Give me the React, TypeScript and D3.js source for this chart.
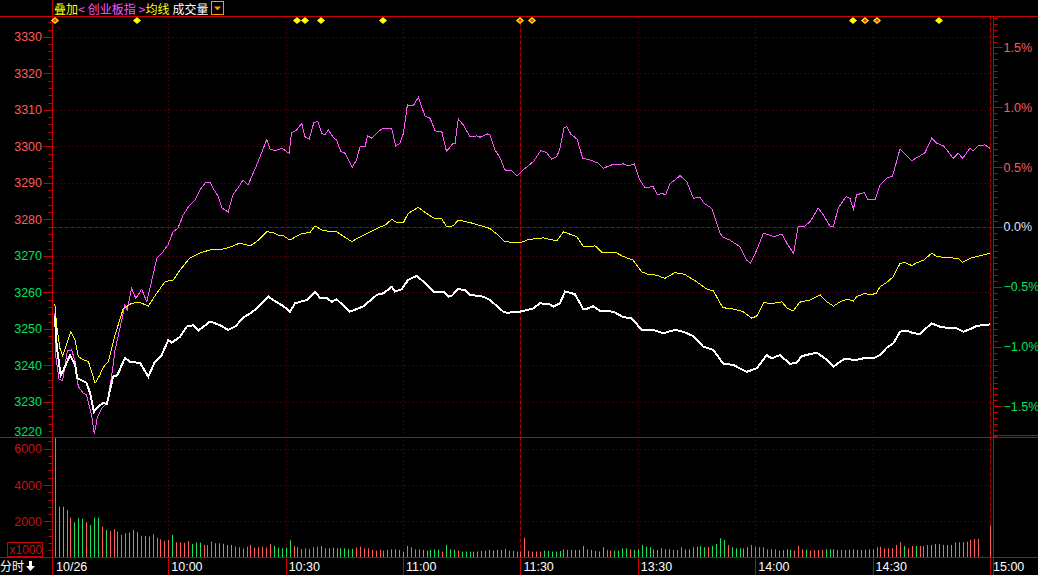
import React, { useEffect } from "react";
import * as d3 from "d3";

// ---------------- data ----------------
const PREV_CLOSE = 3277.9;

const priceTicks = [3220, 3230, 3240, 3250, 3260, 3270, 3280, 3290, 3300, 3310, 3320, 3330];
const pctTicks = [-1.5, -1.0, -0.5, 0.0, 0.5, 1.0, 1.5];
const volTicks = [2000, 4000, 6000];

const timeTickMinutes = [0, 30, 60, 90, 120, 150, 180, 210, 240];
const timeTickLabels = ["10/26", "10:00", "10:30", "11:00", "11:30", "13:30", "14:00", "14:30", "15:00"];

// minute index (trading minutes after 9:30), index value
const indexLine: [number, number][] = [
  [1, 3253.5], [1.5, 3245.1], [2.5, 3237.3], [3.2, 3238.7], [4.9, 3242.8], [6.2, 3240.1], [6.7, 3236.5], [9.1, 3235.2], [10, 3232.4], [11, 3227.3],
  [12.1, 3228.7], [13.4, 3229.7], [14.3, 3229.4], [15.3, 3234.1], [15.9, 3236.9], [17, 3237.3], [18.9, 3242], [20.2, 3241], [22.8, 3240.6], [24.9, 3236.9],
  [26.6, 3241], [28.3, 3242.8], [30, 3246.9], [30.9, 3246.2], [33, 3247.8], [34.7, 3250.6], [36.4, 3251], [37.7, 3249.5], [40.7, 3252], [43.2, 3251],
  [45.3, 3249.7], [47.3, 3250.8], [49.1, 3253], [50.9, 3254.2], [52.6, 3255.6], [55.6, 3258.8], [56.8, 3257.9], [59.4, 3256.2], [61.1, 3254.7], [62.4, 3257],
  [65.4, 3257.9], [67.5, 3260.2], [68.8, 3258.4], [70.5, 3258.4], [71.8, 3257.4], [73, 3258.1], [76.4, 3254.7], [79.8, 3256.1], [83.3, 3259.3], [84.9, 3259.7],
  [87.1, 3261.5], [87.9, 3260.2], [89.6, 3260.8], [91.3, 3263.4], [93.5, 3264.5], [95.2, 3262.9], [97.7, 3260.2], [100.3, 3260.2], [101.6, 3258.8], [102.4, 3259],
  [104.1, 3260.9], [105.8, 3260.6], [107.1, 3259.3], [110.5, 3258.8], [112.2, 3257.9], [115.6, 3254.7], [116.5, 3254.4], [119.9, 3254.7], [123.3, 3255.6], [125, 3257],
  [127.5, 3256.7], [128.4, 3256.1], [130.1, 3257], [131.4, 3260.2], [133.9, 3259.5], [136.1, 3255.3], [137.3, 3255.6], [138.6, 3256.2], [140.3, 3254.9], [143.7, 3254.7],
  [146.3, 3253.2], [148.4, 3252.9], [151, 3249.7], [153.9, 3249.7], [156.5, 3248.8], [159.5, 3249.7], [161.6, 3249.2], [164.2, 3248], [166.7, 3245.1], [169.3, 3244.2],
  [171.8, 3240.5], [174.4, 3240.1], [177.8, 3238.2], [180.4, 3239.2], [182.9, 3242.8], [184.2, 3241.9], [186.3, 3242.8], [188.9, 3240.4], [190.6, 3240.7], [191.9, 3242.5],
  [195.7, 3243.5], [198.3, 3241.5], [200, 3239.6], [202.5, 3241.6], [204.2, 3241.6], [205.9, 3241.5], [207.6, 3241.9], [210.2, 3241.9], [211.9, 3242.8], [213.6, 3244.8],
  [215.3, 3246], [217, 3249.2], [218.7, 3249.5], [220.4, 3248.8], [222.1, 3248.6], [223.4, 3249.9], [225.1, 3251.5], [227.2, 3250.6], [229.8, 3250.1], [231.5, 3250.1],
  [233.2, 3249.2], [235.3, 3250.1], [236.6, 3250.8], [240, 3251.2],
];

// average price line (均线)
const avgLine: [number, number][] = [
  [1, 3256.8], [1.5, 3250.6], [2.3, 3244.7], [3, 3242.5], [5.1, 3249.2], [6.2, 3246.9], [7, 3242.4], [8.3, 3241.5], [9.6, 3241], [11.3, 3235.1],
  [12.5, 3237.3], [13.4, 3239.5], [14.7, 3241], [16.4, 3248.3], [18.5, 3255.6], [19.5, 3256.2], [20.6, 3257], [22.8, 3257.2], [24.9, 3256.2], [27, 3259.7],
  [29.2, 3262.9], [31.3, 3263.4], [33, 3266.1], [35.5, 3269.4], [38.1, 3270.8], [40.7, 3271.6], [43.2, 3271.6], [45.8, 3272.4], [48.3, 3273.5], [50.9, 3272.7],
  [52.6, 3273.9], [55.2, 3276.6], [56.8, 3276.3], [58.1, 3275.7], [59.4, 3275.5], [61.1, 3274.3], [62.8, 3275.4], [64.5, 3276.2], [66.2, 3276.3], [67.5, 3278.2],
  [69.2, 3277.1], [71.3, 3276.6], [73, 3276.6], [74.7, 3275.4], [76.9, 3273.9], [79, 3275.2], [81.1, 3276.3], [83.3, 3277.5], [85.4, 3278.4], [87.1, 3280],
  [88.4, 3279.1], [90.1, 3279.1], [91.3, 3281.6], [93.9, 3283.3], [96, 3281.6], [97.7, 3280.4], [99.9, 3280.1], [101.1, 3278], [102.8, 3278.2], [104.1, 3279.8],
  [107.1, 3279.1], [109.7, 3278.3], [112.2, 3277.5], [113.9, 3276], [116, 3273.9], [119.9, 3273.5], [121.6, 3274.3], [124.2, 3274.8], [125.8, 3274.9], [129.3, 3274.1],
  [131, 3276.6], [134.4, 3275.2], [136.1, 3272.5], [139.1, 3272.7], [140.8, 3271], [144.2, 3271], [146.3, 3269.8], [148.8, 3268.8], [151, 3265.6], [152.7, 3264.9],
  [154.8, 3264.7], [156.9, 3263.8], [159.5, 3265.4], [162, 3264.9], [165, 3262.9], [167.6, 3260.9], [169.3, 3260.4], [171.7, 3255.8], [174.4, 3255.4], [176.9, 3254.7],
  [179.1, 3252.9], [180.4, 3253.5], [182.2, 3257.3], [183.8, 3256.8], [186.8, 3257.4], [188.2, 3255.6], [189.7, 3254.9], [191.4, 3257.3], [194, 3257.9], [196.6, 3259.3],
  [198.3, 3257.4], [200, 3256.2], [201.7, 3257.4], [203.4, 3258.1], [205.1, 3257.6], [205.9, 3258.8], [208, 3259.7], [209.3, 3259.3], [210.9, 3259.7], [211.9, 3261.5],
  [213.6, 3262.7], [215.3, 3264.3], [217, 3267.9], [218.3, 3268.2], [220, 3267.3], [221.3, 3268.1], [223, 3268.8], [225.1, 3270.7], [226.4, 3269.8], [228.9, 3269.5],
  [231.9, 3269.3], [233, 3268.2], [234.9, 3269.3], [237.4, 3270], [240, 3270.7],
];

// overlay 创业板指, percent change
const overlayPct: [number, number][] = [
  [1, -0.722], [1.3, -1.098], [2.1, -1.273], [3, -1.285], [4.2, -1.034], [5.3, -1.028], [6.2, -1.126], [7, -1.335], [8.3, -1.39], [9.1, -1.405],
  [10.4, -1.572], [11.1, -1.731], [11.9, -1.586], [13, -1.516], [14.3, -1.474], [15.5, -1.252], [16.4, -1.028], [18.1, -0.778], [18.9, -0.652], [19.5, -0.694],
  [20.6, -0.513], [21.7, -0.596], [23.2, -0.521], [24.5, -0.625], [25.8, -0.443], [27.1, -0.259], [28.6, -0.209], [29.9, -0.151], [31.2, -0.042], [32.5, -0.008],
  [33.8, 0.1], [35.5, 0.184], [36.8, 0.226], [38.1, 0.309], [39.4, 0.368], [40.7, 0.376], [41.4, 0.326], [42.7, 0.259], [43.7, 0.159], [45.3, 0.125],
  [46.5, 0.268], [47.8, 0.326], [49.1, 0.393], [50.4, 0.351], [52.6, 0.518], [55.2, 0.733], [56, 0.65], [57.3, 0.638], [59, 0.658], [60.9, 0.616],
  [61.5, 0.788], [62.8, 0.811], [64.1, 0.867], [64.9, 0.755], [66, 0.733], [67.2, 0.872], [68.2, 0.88], [69.2, 0.783], [70, 0.769], [70.9, 0.811],
  [72.2, 0.747], [73, 0.727], [74.1, 0.63], [75.2, 0.616], [77, 0.499], [78.1, 0.56], [79, 0.671], [80.3, 0.671], [80.9, 0.761], [82, 0.742],
  [83.7, 0.797], [84.9, 0.825], [87.1, 0.825], [88.1, 0.677], [89.2, 0.7], [90.1, 0.783], [91.1, 1.02], [92.6, 1.012], [93.9, 1.084], [95.6, 0.928],
  [96.9, 0.909], [98.2, 0.803], [99.9, 0.797], [101.1, 0.63], [102.8, 0.7], [103.3, 0.7], [104.1, 0.903], [105.4, 0.853], [107.1, 0.755], [108.8, 0.761],
  [109.7, 0.75], [111.5, 0.778], [112.2, 0.769], [113.5, 0.644], [114.8, 0.577], [116, 0.477], [117.8, 0.468], [119.1, 0.426], [120.7, 0.477], [123.3, 0.546],
  [125.2, 0.638], [126.7, 0.621], [128, 0.566], [129.3, 0.588], [130.1, 0.658], [131.1, 0.825], [131.8, 0.839], [132.9, 0.775], [134.5, 0.733], [135.9, 0.574],
  [137.8, 0.56], [139.9, 0.533], [141.2, 0.491], [143.3, 0.518], [146.3, 0.527], [147.6, 0.51], [149.1, 0.527], [150.5, 0.393], [151.8, 0.329], [153.9, 0.337],
  [155, 0.268], [156.1, 0.282], [157.1, 0.268], [158.2, 0.36], [160.8, 0.429], [162.5, 0.379], [164.2, 0.24], [165.9, 0.248], [166.9, 0.198], [168.9, 0.156],
  [171, -0.053], [171.8, -0.086], [173.5, -0.109], [176.1, -0.165], [177.8, -0.276], [178.8, -0.304], [180.4, -0.192], [182.1, -0.053], [184.7, -0.081], [186.8, -0.059],
  [188.1, -0.136], [189.8, -0.22], [191, 0.008], [192.7, 0.008], [194, 0.044], [196.1, 0.156], [197.4, 0.1], [199.1, 0.008], [200, 0.008], [201.2, 0.156],
  [203.2, 0.253], [204.2, 0.24], [205.1, 0.148], [205.9, 0.268], [207.8, 0.287], [208.9, 0.226], [210.6, 0.226], [211.9, 0.351], [213.6, 0.407], [215.1, 0.426],
  [217, 0.652], [218.3, 0.608], [220, 0.554], [222.1, 0.594], [223.4, 0.621], [225.1, 0.742], [226.4, 0.7], [228.1, 0.677], [229.3, 0.63], [230.6, 0.574],
  [231.9, 0.616], [233, 0.574], [234.9, 0.658], [235.7, 0.638], [237, 0.677], [238.7, 0.686], [240, 0.658],
];

// volume per minute (x1000), minute 1..240
const volumes = [
  9000, 2811, 2811, 2627, 2204, 1947, 2168, 2131, 1947, 1800,
  2204, 2204, 1708, 1525, 1470, 1561, 1433, 1249, 1341, 1378,
  1525, 1396, 1194, 1194, 1157, 1286, 1102, 1010, 918, 974,
  1249, 845, 845, 808, 918, 753, 827, 827, 698, 698,
  882, 790, 790, 753, 698, 698, 606, 569, 514, 606,
  698, 551, 569, 606, 551, 753, 643, 551, 514, 551,
  955, 643, 569, 478, 514, 478, 569, 606, 643, 514,
  514, 551, 514, 514, 514, 478, 478, 551, 606, 514,
  514, 423, 386, 423, 386, 423, 459, 459, 423, 331,
  643, 569, 459, 459, 423, 386, 423, 459, 423, 331,
  698, 459, 423, 386, 331, 331, 331, 331, 331, 367,
  386, 423, 386, 423, 423, 478, 386, 367, 331, 331,
  1102, 367, 331, 331, 331, 386, 367, 331, 331, 367,
  459, 423, 423, 423, 423, 643, 459, 423, 367, 331,
  569, 423, 386, 386, 386, 514, 514, 459, 423, 459,
  698, 606, 569, 459, 423, 514, 459, 459, 423, 423,
  569, 459, 459, 569, 606, 643, 569, 569, 643, 753,
  1065, 974, 698, 569, 514, 514, 514, 569, 698, 606,
  569, 569, 459, 459, 459, 386, 423, 459, 423, 386,
  643, 459, 423, 386, 423, 423, 423, 459, 459, 459,
  423, 423, 423, 423, 459, 423, 423, 423, 459, 459,
  569, 606, 514, 514, 514, 698, 845, 643, 514, 643,
  643, 643, 643, 698, 698, 753, 753, 698, 698, 698,
  845, 845, 845, 882, 974, 1029, 1029, 55, 0, 1763,
];
// 1 = up (red), -1 = down (green)
const volumeDir = [
  1, -1, -1, 1, 1, -1, -1, -1, 1, -1,
  -1, -1, 1, -1, 1, 1, 1, 1, -1, -1,
  -1, -1, 1, -1, -1, 1, 1, 1, 1, 1,
  -1, 1, 1, 1, 1, -1, -1, -1, 1, 1,
  1, -1, -1, -1, -1, -1, 1, 1, 1, 1,
  1, 1, 1, 1, 1, 1, -1, -1, -1, -1,
  -1, 1, 1, 1, 1, 1, 1, 1, -1, 1,
  -1, -1, -1, -1, -1, -1, -1, 1, 1, 1,
  1, 1, 1, 1, 1, 1, -1, -1, -1, -1,
  1, 1, 1, 1, -1, -1, -1, -1, -1, 1,
  -1, -1, -1, 1, -1, -1, -1, -1, -1, -1,
  -1, -1, -1, -1, -1, -1, 1, 1, 1, 1,
  1, 1, 1, 1, 1, -1, -1, -1, -1, -1,
  1, 1, -1, -1, -1, -1, 1, -1, -1, -1,
  -1, 1, 1, -1, -1, -1, -1, 1, -1, -1,
  -1, -1, -1, 1, 1, -1, -1, -1, 1, 1,
  -1, -1, -1, -1, -1, -1, -1, 1, -1, -1,
  -1, -1, 1, -1, -1, -1, -1, -1, 1, 1,
  1, 1, 1, -1, 1, 1, 1, -1, -1, 1,
  1, 1, -1, 1, 1, 1, 1, -1, -1, -1,
  1, 1, 1, -1, -1, -1, -1, -1, -1, 1,
  1, 1, 1, 1, 1, 1, 1, -1, 1, 1,
  -1, 1, 1, 1, -1, -1, -1, -1, -1, -1,
  1, 1, -1, 1, 1, 1, 1, -1, -1, 1,
];

// event markers (minute index) and whether highlighted
const markerMinutes = [1, 22, 63, 65, 69, 85, 120, 123, 205, 208, 211, 227];
const markerHot = [1, 0, 0, 0, 0, 0, 1, 1, 0, 1, 1, 0];

// ---------------- layout ----------------
const W = 1038;
const H = 575;
const AXIS_L = 52.5;
const AXIS_R = 993.5;
const TOP = 16.5;
const MAIN_B = 437.5;
const VOL_B = 557.5;

const RED_AXIS = "#c80000";
const GRID = "#8c0000";
const UP_TXT = "#ff5a5a";
const DN_TXT = "#00e060";
const NUM_FONT = "'Liberation Sans', Arial, sans-serif";
const CJK_FONT = "'Noto Sans CJK SC', 'Noto Sans', sans-serif";

export default function App() {
  useEffect(() => {
    document.body.style.margin = "0";
    document.body.style.background = "#000";
  }, []);

  const x = d3.scaleLinear().domain([0, 240]).range([50.9, 990]);
  const y = d3.scaleLinear().domain([3220, 3330]).range([438.3, 36.8]);
  const yPct = (p: number) => y(PREV_CLOSE * (1 + p / 100));
  const yVol = d3.scaleLinear().domain([0, 6000]).range([557.6, 448.7]);

  const priceLine = d3.line<[number, number]>().x((d) => x(d[0])).y((d) => y(d[1]));
  const pctLine = d3.line<[number, number]>().x((d) => x(d[0])).y((d) => yPct(d[1]));

  const minorPrice = d3.range(3222, 3336, 2).filter((v) => v % 10 !== 0 && y(v) > TOP && y(v) < MAIN_B);
  const minorPct = d3.range(-1.75, 1.76, 0.05).map((v) => Math.round(v * 100) / 100)
    .filter((v) => Math.abs((v * 100) % 50) > 1e-6 && yPct(v) > TOP && yPct(v) < MAIN_B);
  const minorVol = d3.range(400, 6500, 400).filter((v) => v % 2000 !== 0);

  const hGridPrice = priceTicks.filter((v) => y(v) > TOP + 2 && y(v) < MAIN_B - 2);
  const vGrid = [30, 60, 90, 150, 180, 210];
  const yPrev = y(PREV_CLOSE);

  const pctLabel = (p: number) => d3.format(".1f")(p) + "%";

  return (
    <svg width={W} height={H} style={{ position: "absolute", left: 0, top: 0, background: "#000", display: "block" }}>
      <rect x={0} y={0} width={W} height={H} fill="#000" />
      <defs>
        <clipPath id="mainClip">
          <rect x={AXIS_L} y={TOP} width={AXIS_R - AXIS_L} height={MAIN_B - TOP} />
        </clipPath>
        <clipPath id="volClip">
          <rect x={AXIS_L} y={MAIN_B + 0.5} width={AXIS_R - AXIS_L} height={VOL_B - MAIN_B - 0.5} />
        </clipPath>
      </defs>

      {/* horizontal dotted grid - price */}
      {hGridPrice.map((v) => (
        <line key={"hg" + v} x1={AXIS_L} x2={AXIS_R} y1={Math.round(y(v)) + 0.5} y2={Math.round(y(v)) + 0.5}
          stroke={GRID} strokeDasharray="1 3" />
      ))}
      {/* horizontal dotted grid - volume */}
      {volTicks.map((v) => (
        <line key={"vg" + v} x1={AXIS_L} x2={AXIS_R} y1={Math.round(yVol(v)) + 0.5} y2={Math.round(yVol(v)) + 0.5}
          stroke={GRID} strokeDasharray="1 3" />
      ))}
      {/* vertical dotted grid */}
      {vGrid.map((k) => (
        <line key={"vt" + k} x1={Math.round(x(k)) + 0.5} x2={Math.round(x(k)) + 0.5} y1={TOP} y2={VOL_B}
          stroke={GRID} strokeDasharray="1 3" />
      ))}
      {/* dashed: midday & close */}
      {[120, 240].map((k) => (
        <line key={"vd" + k} x1={Math.round(x(k)) + 0.5} x2={Math.round(x(k)) + 0.5} y1={TOP} y2={VOL_B}
          stroke="#b80000" strokeDasharray="4 2" />
      ))}
      {/* previous close */}
      <line x1={AXIS_L} x2={AXIS_R} y1={Math.round(yPrev) + 0.5} y2={Math.round(yPrev) + 0.5} stroke="#b80000" strokeDasharray="4 2" />

      {/* volume bars */}
      <g clipPath="url(#volClip)">
        {volumes.map((v, i) => {
          if (v <= 0) return null;
          const k = i + 1;
          const xx = Math.round(x(k)) + 0.5;
          return (
            <line key={"vb" + k} x1={xx} x2={xx} y1={yVol(0)} y2={yVol(v)}
              stroke={volumeDir[i] > 0 ? "#ff5c5c" : "#1ee05a"} strokeWidth={1} />
          );
        })}
      </g>

      {/* lines */}
      <g clipPath="url(#mainClip)" fill="none">
        <path d={pctLine(overlayPct) || ""} stroke="#ff55ff" strokeWidth={1} shapeRendering="crispEdges" />
        <path d={priceLine(avgLine) || ""} stroke="#ffff00" strokeWidth={1} shapeRendering="crispEdges" />
        <path d={priceLine(indexLine) || ""} stroke="#ffffff" strokeWidth={2} shapeRendering="crispEdges" />
      </g>

      {/* frame lines */}
      <line x1={0} x2={W} y1={TOP} y2={TOP} stroke={RED_AXIS} />
      <line x1={0} x2={W} y1={MAIN_B} y2={MAIN_B} stroke={RED_AXIS} />
      <line x1={0} x2={W} y1={VOL_B} y2={VOL_B} stroke={RED_AXIS} />
      <line x1={AXIS_R} x2={W} y1={435.5} y2={435.5} stroke={RED_AXIS} />
      <line x1={AXIS_L} x2={AXIS_L} y1={0} y2={H} stroke={RED_AXIS} />
      <line x1={AXIS_R} x2={AXIS_R} y1={TOP} y2={H} stroke={RED_AXIS} />
      {/* separators in time row */}
      {timeTickMinutes.slice(1).map((k) => (
        <line key={"ts" + k} x1={Math.round(x(k)) + 0.5} x2={Math.round(x(k)) + 0.5} y1={VOL_B} y2={H} stroke={RED_AXIS} />
      ))}

      {/* left price axis ticks */}
      {priceTicks.map((v) => (
        <line key={"lt" + v} x1={43.5} x2={AXIS_L} y1={Math.round(y(v)) + 0.5} y2={Math.round(y(v)) + 0.5} stroke={RED_AXIS}
          visibility={y(v) < MAIN_B ? "visible" : "hidden"} />
      ))}
      {minorPrice.map((v) => (
        <line key={"lm" + v} x1={48.5} x2={AXIS_L} y1={Math.round(y(v)) + 0.5} y2={Math.round(y(v)) + 0.5} stroke={RED_AXIS} />
      ))}
      {priceTicks.map((v) => (
        <text key={"ll" + v} x={42} y={Math.min(y(v), 431)} dy="0.36em" textAnchor="end" fontSize={12.5}
          fontFamily={NUM_FONT} fill={v >= PREV_CLOSE ? UP_TXT : DN_TXT}>{v}</text>
      ))}

      {/* right percent axis */}
      {pctTicks.map((p) => (
        <line key={"rt" + p} x1={AXIS_R} x2={1002.5} y1={Math.round(yPct(p)) + 0.5} y2={Math.round(yPct(p)) + 0.5} stroke={RED_AXIS} />
      ))}
      {minorPct.map((p) => (
        <line key={"rm" + p} x1={AXIS_R} x2={997.5} y1={Math.round(yPct(p)) + 0.5} y2={Math.round(yPct(p)) + 0.5} stroke={RED_AXIS} />
      ))}
      {pctTicks.map((p) => (
        <text key={"rl" + p} x={1003.5} y={yPct(p)} dy="0.36em" fontSize={12.5} fontFamily={NUM_FONT}
          fill={p > 0 ? UP_TXT : p < 0 ? DN_TXT : "#dce4ff"}>{pctLabel(p)}</text>
      ))}

      {/* volume axis */}
      {volTicks.map((v) => (
        <line key={"vt2" + v} x1={43.5} x2={AXIS_L} y1={Math.round(yVol(v)) + 0.5} y2={Math.round(yVol(v)) + 0.5} stroke={RED_AXIS} />
      ))}
      {minorVol.map((v) => (
        <line key={"vm" + v} x1={48.5} x2={AXIS_L} y1={Math.round(yVol(v)) + 0.5} y2={Math.round(yVol(v)) + 0.5} stroke={RED_AXIS} />
      ))}
      {volTicks.map((v) => (
        <text key={"vl" + v} x={42} y={yVol(v)} dy="0.36em" textAnchor="end" fontSize={12.5} fontFamily={NUM_FONT} fill="#c41010">{v}</text>
      ))}
      <rect x={7.5} y={542.5} width={35} height={14} fill="none" stroke={RED_AXIS} />
      <text x={9.5} y={554} fontSize={12} fontFamily={NUM_FONT} fill="#c41010">x1000</text>

      {/* time labels */}
      {timeTickMinutes.map((k, i) => (
        <text key={"tl" + k} x={i === 0 ? 56 : x(k) + 3} y={571} fontSize={12.5} fontFamily={NUM_FONT} fill="#ffffff">{timeTickLabels[i]}</text>
      ))}
      <text x={0} y={571} fontSize={12} fontFamily={CJK_FONT} fill="#ffffff">分时</text>
      <path d="M29,561 h3 v5 h3 l-4.5,5 l-4.5,-5 h3 z" fill="#ffffff" />

      {/* header */}
      <text y={14} fontSize={12} fontFamily={CJK_FONT}>
        <tspan x={54} fill="#ffff00">叠加</tspan>
        <tspan fill="#ff55ff">&lt;</tspan>
        <tspan dx={3} fill="#ff55ff">创业板指</tspan>
        <tspan dx={3} fill="#ff55ff">&gt;</tspan>
        <tspan fill="#ffff00">均线</tspan>
        <tspan dx={3} fill="#ffffff">成交量</tspan>
      </text>
      <rect x={211.5} y={1.5} width={12} height={13} fill="#000" stroke="#ff9a00" />
      <path d="M214,6.5 h7 l-3.5,4 z" fill="#ff9a00" />

      {/* event markers */}
      {markerMinutes.map((k, i) => {
        const cx = Math.round(x(k));
        const cy = 20.5;
        return (
          <g key={"mk" + i}>
            <path d={`M${cx},${cy - 3.5} L${cx + 4},${cy} L${cx},${cy + 3.5} L${cx - 4},${cy} Z`} fill="#ffff00" />
            {markerHot[i] ? <path d={`M${cx},${cy - 2} L${cx + 2.2},${cy} L${cx},${cy + 2} L${cx - 2.2},${cy} Z`} fill="#ff3030" /> : null}
          </g>
        );
      })}
    </svg>
  );
}
